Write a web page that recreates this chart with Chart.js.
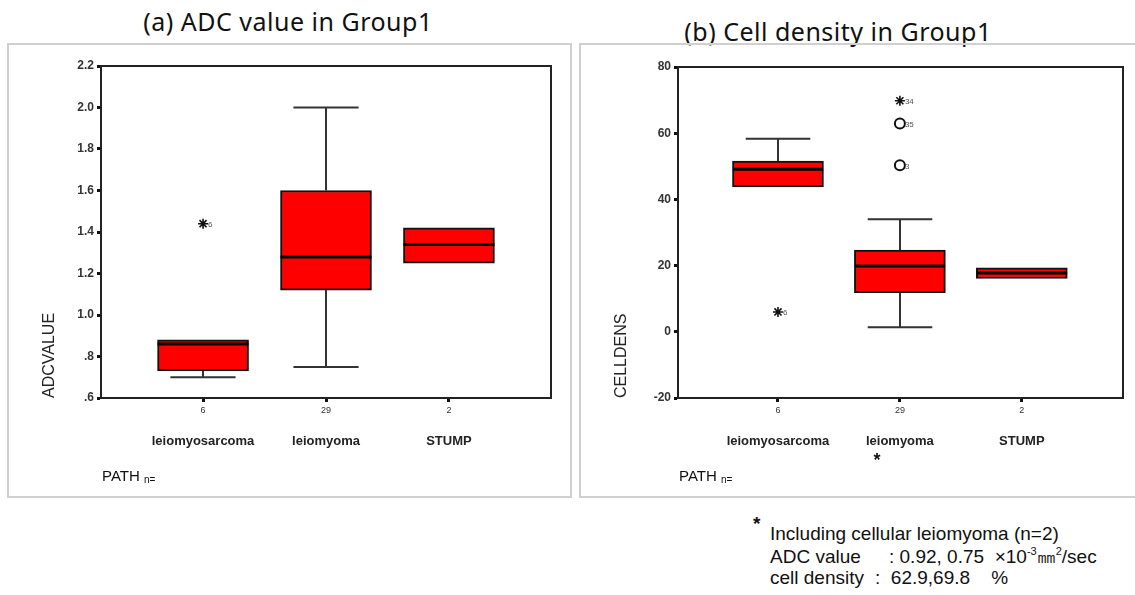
<!DOCTYPE html>
<html>
<head>
<meta charset="utf-8">
<script src="https://cdn.jsdelivr.net/npm/chart.js@4/dist/chart.umd.min.js"></script>
<style>
    body { margin: 0; background: #fff; width: 1135px; height: 595px; position: relative; overflow: hidden; font-family: Arial, "Liberation Sans", sans-serif; color: #111; }
    .panel { position: absolute; border: 2px solid #d0d0d0; box-sizing: border-box; }
    canvas { position: absolute; }
    .title { position: absolute; font-family: "Noto Sans", sans-serif; font-size: 25px; letter-spacing: 0.5px; white-space: nowrap; transform: translateX(-50%); color: #111; }
    .note { position: absolute; font-size: 19px; white-space: nowrap; line-height: 20px; }
    sup { font-size: 11px; vertical-align: 8px; line-height: 0; }
</style>
</head>
<body>
<div class="title" style="left:288px; top:4px;">(a) ADC value in Group1</div>
<div class="title" style="left:838px; top:14px;">(b) Cell density in Group1</div>
<div class="panel" style="left:7px; top:43px; width:565px; height:455px;"></div>
<div class="panel" style="left:579px; top:43px; width:570px; height:455px;"></div>
<canvas id="adcChart" width="563" height="453" style="left:8px; top:44px;"></canvas>
<canvas id="cellChart" width="555" height="453" style="left:580px; top:44px;"></canvas>

<div class="note" style="left:753px; top:514px; font-weight:bold; font-size:19px;">*</div>
<div class="note" style="left:770px; top:524px;">Including cellular leiomyoma (n=2)</div>
<div class="note" style="left:770px; top:547px;">ADC value</div>
<div class="note" style="left:889px; top:547px;">: 0.92, 0.75&nbsp; ×10<sup>-3</sup>㎜<sup>2</sup>/sec</div>
<div class="note" style="left:770px; top:568px;">cell density</div>
<div class="note" style="left:875px; top:568px;">:&nbsp; 62.9,69.8&nbsp;&nbsp;&nbsp; %</div>

<script>
const categories = ['leiomyosarcoma', 'leiomyoma', 'STUMP'];
const groupN = ['6', '29', '2'];

// (a) ADC value
const adcMin = [0.70, 0.75, 1.25];
const adcQ1 = [0.73, 1.12, 1.25];
const adcMedian = [0.86, 1.28, 1.34];
const adcQ3 = [0.88, 1.60, 1.42];
const adcMax = [0.88, 2.00, 1.42];
const adcExtremeCat = [1];
const adcExtremeVal = [1.44];
const adcExtremeCase = ['6'];
const adcOutlierCat = [];
const adcOutlierVal = [];
const adcOutlierCase = [];

// (b) cell density
const cellMin = [43.8, 1.4, 16.1];
const cellQ1 = [43.8, 11.8, 16.1];
const cellMedian = [49.1, 19.9, 17.8];
const cellQ3 = [51.6, 24.7, 19.3];
const cellMax = [58.3, 34.0, 19.3];
const cellExtremeCat = [1, 2];
const cellExtremeVal = [6.0, 69.8];
const cellExtremeCase = ['6', '34'];
const cellOutlierCat = [2, 2];
const cellOutlierVal = [62.9, 50.3];
const cellOutlierCase = ['35', '3'];

// whiskers, medians, frame and case labels drawn on the chart's scales
const boxParts = {
    id: 'boxParts',
    afterDatasetsDraw(chart, args, opts) {
        const {ctx, chartArea: a, scales: {x, y}} = chart;
        const step = x.getPixelForValue(2) - x.getPixelForValue(1);
        const boxHalf = step * 0.37;
        const capHalf = step * 0.265;
        ctx.save();

        // top + right frame
        ctx.strokeStyle = '#222';
        ctx.lineWidth = 2;
        ctx.beginPath();
        ctx.moveTo(a.left, a.top);
        ctx.lineTo(a.right, a.top);
        ctx.lineTo(a.right, a.bottom);
        ctx.stroke();

        opts.median.forEach((med, i) => {
            const cx = Math.round(x.getPixelForValue(i + 1));
            const q1 = y.getPixelForValue(opts.q1[i]);
            const q3 = y.getPixelForValue(opts.q3[i]);
            const lo = y.getPixelForValue(opts.min[i]);
            const hi = y.getPixelForValue(opts.max[i]);
            ctx.strokeStyle = '#333';
            ctx.lineWidth = 2;
            ctx.beginPath();
            if (hi < q3 - 1) {
                ctx.moveTo(cx, q3); ctx.lineTo(cx, hi);
                ctx.moveTo(cx - capHalf, hi); ctx.lineTo(cx + capHalf, hi);
            }
            if (lo > q1 + 1) {
                ctx.moveTo(cx, q1); ctx.lineTo(cx, lo);
                ctx.moveTo(cx - capHalf, lo); ctx.lineTo(cx + capHalf, lo);
            }
            ctx.stroke();

            const my = y.getPixelForValue(med);
            ctx.strokeStyle = '#000';
            ctx.lineWidth = 3;
            ctx.beginPath();
            ctx.moveTo(cx - boxHalf, my);
            ctx.lineTo(cx + boxHalf, my);
            ctx.stroke();
        });

        // case numbers next to outliers
        ctx.fillStyle = '#555';
        ctx.font = '8px Arial';
        ctx.textBaseline = 'middle';
        opts.caseLabels.forEach(p => {
            ctx.fillText(p.text, x.getPixelForValue(p.x) + 5, y.getPixelForValue(p.y) + 1);
        });

        ctx.fillStyle = '#111';
        ctx.textBaseline = 'middle';
        ctx.font = '15px Arial';
        ctx.fillText('PATH', a.left + 1, a.bottom + 79);
        const w = ctx.measureText('PATH ').width;
        ctx.font = '10px Arial';
        ctx.fillText('n=', a.left + 1 + w, a.bottom + 82);

        if (opts.footMark) {
            ctx.font = 'bold 18px Arial';
            ctx.textAlign = 'center';
            ctx.fillText('*', x.getPixelForValue(opts.footMark) - 23, a.bottom + 63);
        }
        ctx.restore();
    }
};

function makeBoxChart(id, s) {
    const caseLabels = [];
    s.extremeCat.forEach((c, i) => caseLabels.push({x: c, y: s.extremeVal[i], text: s.extremeCase[i]}));
    s.outlierCat.forEach((c, i) => caseLabels.push({x: c, y: s.outlierVal[i], text: s.outlierCase[i]}));
    const catTicks = scale => { scale.ticks = categories.map((_, i) => ({value: i + 1})); };

    return new Chart(document.getElementById(id), {
        type: 'bar',
        data: {
            datasets: [{
                type: 'scatter',
                data: s.extremeCat.map((c, i) => ({x: c, y: s.extremeVal[i]})),
                pointStyle: 'star',
                radius: 5,
                borderColor: '#111',
                borderWidth: 1.6,
                backgroundColor: '#111'
            }, {
                type: 'scatter',
                data: s.outlierCat.map((c, i) => ({x: c, y: s.outlierVal[i]})),
                pointStyle: 'circle',
                radius: 5,
                borderColor: '#111',
                borderWidth: 2,
                backgroundColor: '#fff'
            }, {
                type: 'bar',
                data: categories.map((_, i) => ({x: i + 1, y: [s.q1[i], s.q3[i]]})),
                backgroundColor: '#ff0000',
                borderColor: '#111',
                borderWidth: 2,
                borderSkipped: false,
                barThickness: 91
            }]
        },
        options: {
            responsive: false,
            animation: false,
            devicePixelRatio: 1,
            layout: {padding: {top: s.padTop, right: s.padRight, left: 0, bottom: 0}},
            plugins: {
                legend: {display: false},
                tooltip: {enabled: false},
                boxParts: {
                    min: s.min, q1: s.q1, median: s.median, q3: s.q3, max: s.max,
                    caseLabels: caseLabels, footMark: s.footMark
                }
            },
            scales: {
                x: {
                    type: 'linear', position: 'bottom', min: s.xMin, max: s.xMax, offset: false,
                    afterBuildTicks: catTicks,
                    afterFit: scale => { scale.height = 20; },
                    grid: {drawOnChartArea: false, offset: false, tickLength: 4, tickWidth: 3, tickColor: '#111'},
                    border: {color: '#222', width: 2},
                    ticks: {
                        padding: 3, color: '#333', font: {family: 'Arial', size: 9},
                        callback: v => groupN[v - 1]
                    }
                },
                x2: {
                    type: 'linear', position: 'bottom', min: s.xMin, max: s.xMax, offset: false,
                    afterBuildTicks: catTicks,
                    afterFit: scale => { scale.height = 79; },
                    grid: {display: false},
                    border: {display: false},
                    ticks: {
                        padding: 8, color: '#222', font: {family: 'Arial', size: 13, weight: 'bold'},
                        callback: v => categories[v - 1]
                    }
                },
                y: {
                    min: s.yMin, max: s.yMax,
                    afterFit: scale => { scale.width = s.yWidth; },
                    grid: {drawOnChartArea: false, tickLength: 4, tickWidth: 3, tickColor: '#111'},
                    border: {color: '#222', width: 2},
                    ticks: {
                        stepSize: s.yStep, padding: 3, color: '#333',
                        font: {family: 'Arial', size: 12, weight: 'bold'},
                        callback: s.yFormat
                    },
                    title: {
                        display: true, text: s.yTitle, align: 'start', color: '#222',
                        font: {family: 'Arial', size: 16}, padding: {top: 32, bottom: 0}
                    }
                }
            }
        },
        plugins: [boxParts]
    });
}

makeBoxChart('adcChart', {
    min: adcMin, q1: adcQ1, median: adcMedian, q3: adcQ3, max: adcMax,
    extremeCat: adcExtremeCat, extremeVal: adcExtremeVal, extremeCase: adcExtremeCase,
    outlierCat: adcOutlierCat, outlierVal: adcOutlierVal, outlierCase: adcOutlierCase,
    yMin: 0.6, yMax: 2.2, yStep: 0.2, yTitle: 'ADCVALUE',
    yFormat: v => v.toFixed(1).replace(/^0\./, '.'),
    xMin: 0.17, xMax: 3.83, yWidth: 93, padTop: 22, padRight: 20
});

makeBoxChart('cellChart', {
    min: cellMin, q1: cellQ1, median: cellMedian, q3: cellQ3, max: cellMax,
    extremeCat: cellExtremeCat, extremeVal: cellExtremeVal, extremeCase: cellExtremeCase,
    outlierCat: cellOutlierCat, outlierVal: cellOutlierVal, outlierCase: cellOutlierCase,
    yMin: -20, yMax: 80, yStep: 20, yTitle: 'CELLDENS',
    yFormat: v => String(v),
    xMin: 0.18, xMax: 3.83, yWidth: 98, padTop: 23, padRight: 12, footMark: 2
});
</script>
</body>
</html>
